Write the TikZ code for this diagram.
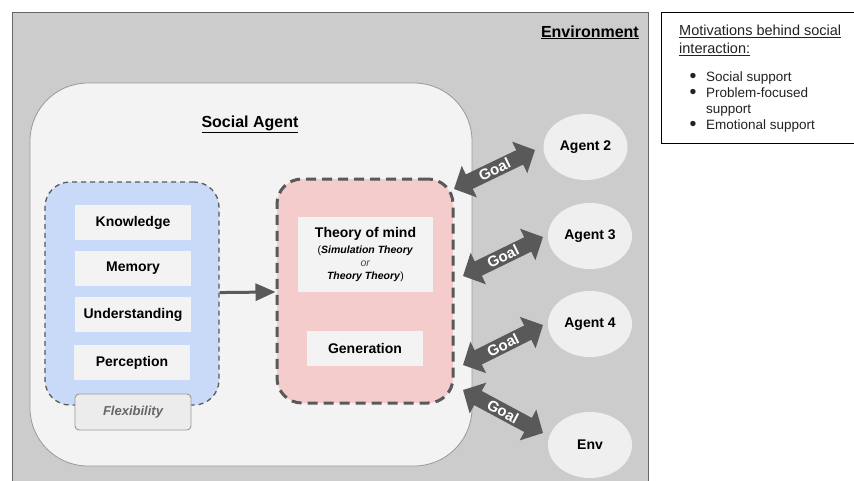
\documentclass[tikz,border=0pt]{standalone}
\usepackage{fontspec}
\setmainfont{Liberation Sans}
\usetikzlibrary{shapes.geometric,arrows.meta}
\definecolor{envgray}{HTML}{CCCCCC}
\definecolor{envborder}{HTML}{666666}
\definecolor{agentfill}{HTML}{F3F3F3}
\definecolor{agentborder}{HTML}{999999}
\definecolor{bluefill}{HTML}{C9DAF8}
\definecolor{pinkfill}{HTML}{F4CCCC}
\definecolor{dgray}{HTML}{595959}
\definecolor{boxfill}{HTML}{F3F3F3}
\definecolor{ellfill}{HTML}{EFEFEF}
\definecolor{flexfill}{HTML}{ECECEC}
\definecolor{flextext}{HTML}{666666}
\definecolor{orgray}{HTML}{444444}
\definecolor{txt}{HTML}{222222}
\newcommand{\bigbul}{\raisebox{-1.2pt}{\scalebox{1.45}{\textbullet}}}
\begin{document}
\begin{tikzpicture}[x=1pt,y=-1pt,
  inbox/.style={fill=boxfill, minimum width=116pt, minimum height=35pt, inner sep=0pt,
    font=\fontsize{14}{16}\selectfont\bfseries},
  agent/.style={ellipse, fill=ellfill, minimum width=84pt, minimum height=66pt, inner sep=0pt,
    font=\fontsize{14}{16}\selectfont\bfseries},
  goal/.style={draw=dgray, line width=16pt,
    {Triangle[length=17pt,width=34pt]}-{Triangle[length=17pt,width=34pt]}},
  goaltext/.style={midway, sloped, text=white, inner sep=0pt,
    font=\fontsize{15}{17}\selectfont\bfseries},
  titletext/.style={inner sep=0pt, font=\fontsize{16}{18}\selectfont\bfseries}
]
\useasboundingbox (0,0) rectangle (854,480);
\fill[white] (0,0) rectangle (854,480);

% environment
\node[draw=envborder, line width=1pt, fill=envgray, minimum width=636pt, minimum height=490pt,
  anchor=north west, inner sep=0pt] (env) at (12,12) {};
\node[titletext, anchor=base east] (envtitle) at (639,37) {\underline{Environment}};

% legend
\node[draw=black, line width=0.8pt, fill=white, minimum width=195pt, minimum height=131pt,
  anchor=north west, inner sep=0pt] (legend) at (661,12) {};
\node[anchor=north west, inner sep=0pt, align=left, text=txt,
  font=\fontsize{14.5}{18}\selectfont] (legtitle) at (679,24.5)
  {\underline{Motivations behind social}\\\underline{interaction:}};
\node[anchor=north west, inner sep=0pt, text=txt, font=\fontsize{13.5}{16}\selectfont] (leglist) at (689.5,69.8)
  {\begin{tabular}{@{}c@{\hspace{9.5pt}}l@{}}
   \bigbul & Social support\\
   \bigbul & Problem-focused\\
           & support\\
   \bigbul & Emotional support
   \end{tabular}};

% social agent
\node[draw=agentborder, line width=0.8pt, fill=agentfill, rounded corners=58pt,
  minimum width=442pt, minimum height=383pt, inner sep=0pt] (social) at (251,274.5) {};
\node[titletext, anchor=base] (sattitle) at (250,127) {\underline{Social Agent}};

% cognition (blue)
\node[draw=dgray, line width=1.3pt, dash pattern=on 5pt off 4pt, fill=bluefill, rounded corners=25pt,
  minimum width=174pt, minimum height=223pt, inner sep=0pt] (cog) at (132,293.5) {};
\node[inbox] (kn)  at (133,222.5) {Knowledge};
\node[inbox] (mem) at (133,268.5) {Memory};
\node[inbox] (und) at (133,314.5) {Understanding};
\node[inbox] (per) at (132,362.5) {Perception};
\node[draw=agentborder, line width=0.9pt, fill=flexfill, rounded corners=4pt,
  minimum width=116pt, minimum height=36pt, inner sep=0pt, text=flextext,
  font=\fontsize{13}{15}\selectfont\bfseries\itshape] (flex) at (133,412) {Flexibility};

% theory of mind (pink)
\node[draw=dgray, line width=3pt, dash pattern=on 10pt off 6pt, fill=pinkfill, rounded corners=25pt,
  minimum width=176pt, minimum height=224pt, inner sep=0pt] (pink) at (365,291) {};
\node[fill=boxfill, minimum width=135pt, minimum height=75pt, inner sep=0pt, align=center,
  font=\fontsize{10.5}{13}\selectfont] (tom) at (365.5,254.5)
  {{\fontsize{14}{16}\selectfont\bfseries Theory of mind}\\[3pt]
   (\textbf{\textit{Simulation Theory}}\\
   {\color{orgray}\textit{or}}\\
   \textbf{\textit{Theory Theory}})};
\node[inbox] (gen) at (365,348.5) {Generation};

% arrow cognition -> theory of mind
\draw[dgray, line width=3pt, -{Triangle[length=20pt,width=17pt]}] (cog) -- (pink);

% agents
\node[agent] (a2) at (585.5,147) {Agent 2};
\node[agent] (a3) at (590,236) {Agent 3};
\node[agent] (a4) at (590,324) {Agent 4};
\node[agent] (envag) at (590,445) {Env};

% goal arrows
\coordinate (g1s) at (454,189); \coordinate (g1e) at (535,150);
\coordinate (g2s) at (463,276); \coordinate (g2e) at (543,237);
\coordinate (g3s) at (463,365); \coordinate (g3e) at (543,325);
\coordinate (g4s) at (463,390); \coordinate (g4e) at (543,433);
\draw[goal] (g1s) -- (g1e) node[goaltext] {Goal};
\draw[goal] (g2s) -- (g2e) node[goaltext] {Goal};
\draw[goal] (g3s) -- (g3e) node[goaltext] {Goal};
\draw[goal] (g4s) -- (g4e) node[goaltext] {Goal};
\end{tikzpicture}
\end{document}
